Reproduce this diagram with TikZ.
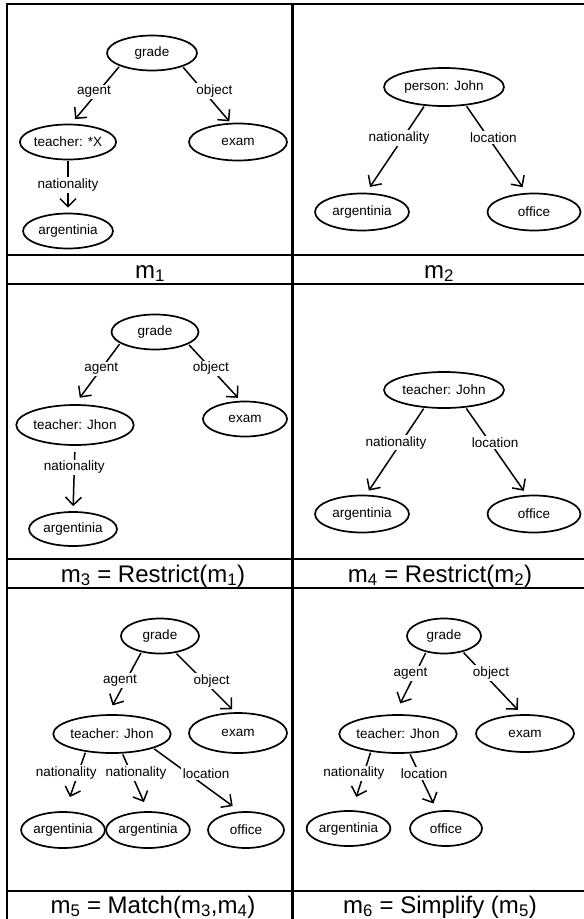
\documentclass[tikz,border=0pt]{standalone}
\usepackage{fontspec}
\setmainfont{Liberation Sans}
\usetikzlibrary{shapes.geometric,arrows.meta}

\begin{document}
\begin{tikzpicture}[x=1pt,y=-1pt,
     font=\fontsize{13.5}{15}\selectfont,
     >={Straight Barb[length=8pt,width=16pt]},
     concept/.style 2 args={ellipse,draw,line width=1.7pt,inner sep=0pt,minimum width=#1,minimum height=#2},
     rel/.style={->,line width=1.5pt,shorten <=1pt},
     lbl/.style={fill=white,inner sep=1.5pt},
     tbl/.style={line width=2.3pt},
     mcap/.style={anchor=base,font=\fontsize{24}{28}\selectfont}]
     \useasboundingbox (0,0) rectangle (584,919);
     \draw[tbl] (600,4) -- (7,4) -- (7,930);
     \draw[tbl] (292.5,4) -- (292.5,930);
     \foreach \y in {255,284,559,588,891} \draw[tbl] (7,\y) -- (600,\y);
     % m1
     \node[concept={90}{35}] (g1) at (152,53) {grade};
     \node[concept={93}{35}] (t1) at (68,142) {teacher: *X};
     \node[concept={98}{37}] (e1) at (238,142) {exam};
     \node[concept={90}{35}] (a1) at (68,231) {argentinia};
     \draw[rel,shorten >=6pt] (g1.202) -- node[lbl,pos=.45,xshift=-4pt] {agent} (t1.80);
     \draw[rel,shorten >=2pt] (g1.336) -- node[lbl,pos=.43,xshift=11pt] {object} (e1.111);
     \draw[rel,shorten >=5pt] (t1.270) -- node[lbl,pos=.47] {nationality} (a1.90);
     % m2
     \node[concept={120}{38}] (p2) at (444,87) {person: John};
     \node[concept={94}{37}] (a2) at (362,212) {argentinia};
     \node[concept={93}{37}] (o2) at (534,212) {office};
     \draw[rel,shorten >=7pt] (p2.224) -- node[lbl,pos=.37,xshift=-4pt] {nationality} (a2.78);
     \draw[rel,shorten >=7pt] (p2.320) -- node[lbl,pos=.37,xshift=5pt] {location} (o2.111);
     % m3
     \node[concept={87}{35}] (g3) at (155,332) {grade};
     \node[concept={107}{40}] (t3) at (75,425) {teacher: Jhon};
     \node[concept={84}{35}] (e3) at (245,419) {exam};
     \node[concept={88}{34}] (a3) at (73,529) {argentinia};
     \draw[rel,shorten >=8pt] (g3.198) -- node[lbl,pos=.42] {agent} (t3.90);
     \draw[rel,shorten >=4pt] (g3.340) -- node[lbl,pos=.43] {object} (e3.103);
     \draw[rel,shorten <=6pt,shorten >=5pt] (t3.270) -- node[lbl,pos=.33] {nationality} (a3.90);
     % m4
     \node[concept={120}{36}] (t4) at (444,390) {teacher: John};
     \node[concept={94}{37}] (a4) at (362,514) {argentinia};
     \node[concept={93}{37}] (o4) at (534,514) {office};
     \draw[rel,shorten >=5pt] (t4.222) -- node[lbl,pos=.4,xshift=-5pt] {nationality} (a4.78);
     \draw[rel,shorten >=5pt] (t4.321) -- node[lbl,pos=.4,xshift=5pt] {location} (o4.111);
     % m5
     \node[concept={78}{35}] (g5) at (160,636) {grade};
     \node[concept={113}{38}] (t5) at (112,734) {teacher: Jhon};
     \node[concept={98}{40}] (e5) at (238,733) {exam};
     \node[concept={80}{36}] (a5) at (63,830) {argentinia};
     \node[concept={80}{36}] (b5) at (148,830) {argentinia};
     \node[concept={76}{36}] (o5) at (246,830) {office};
     \draw[rel,shorten >=10pt] (g5.221) -- node[lbl,pos=.46,xshift=-6pt] {agent} (t5.102);
     \draw[rel,shorten >=4pt] (g5.313) -- node[lbl,pos=.47,xshift=8pt] {object} (e5.98);
     \draw[rel,shorten >=15pt] (t5.214) -- node[lbl,pos=.36,xshift=-12pt] {nationality} (a5.84);
     \draw[rel,shorten >=10pt] (t5.298) -- node[lbl,pos=.34,xshift=5pt] {nationality} (b5.90);
     \draw[rel,shorten >=9pt] (t5.341) -- node[lbl,pos=.4,xshift=18pt] {location} (o5.108);
     % m6
     \node[concept={74}{35}] (g6) at (444,636) {grade};
     \node[concept={112}{38}] (t6) at (398,734) {teacher: Jhon};
     \node[concept={98}{37}] (e6) at (525,733.5) {exam};
     \node[concept={80}{35}] (a6) at (348.5,828.5) {argentinia};
     \node[concept={72}{35}] (o6) at (446,828.5) {office};
     \draw[rel,shorten >=12pt] (g6.222) -- node[lbl,pos=.34,xshift=-5pt] {agent} (t6.99);
     \draw[rel,shorten >=6pt] (g6.320) -- node[lbl,pos=.34,xshift=8pt] {object} (e6.99);
     \draw[rel,shorten >=14pt] (t6.213) -- node[lbl,pos=.37,xshift=-10pt] {nationality} (a6.79);
     \draw[rel,shorten >=8pt] (t6.301) -- node[lbl,pos=.35,xshift=5pt] {location} (o6.117);
     % captions
     \node[mcap] (c1) at (150,278) {m\textsubscript{1}};
     \node[mcap] (c2) at (439,278) {m\textsubscript{2}};
     \node[mcap] (c3) at (153,582) {m\textsubscript{3} = Restrict(m\textsubscript{1})};
     \node[mcap] (c4) at (440,582) {m\textsubscript{4} = Restrict(m\textsubscript{2})};
     \node[mcap] (c5) at (153,913) {m\textsubscript{5} = Match(m\textsubscript{3},m\textsubscript{4})};
     \node[mcap] (c6) at (440,913) {m\textsubscript{6} = Simplify (m\textsubscript{5})};
\end{tikzpicture}
\end{document}
